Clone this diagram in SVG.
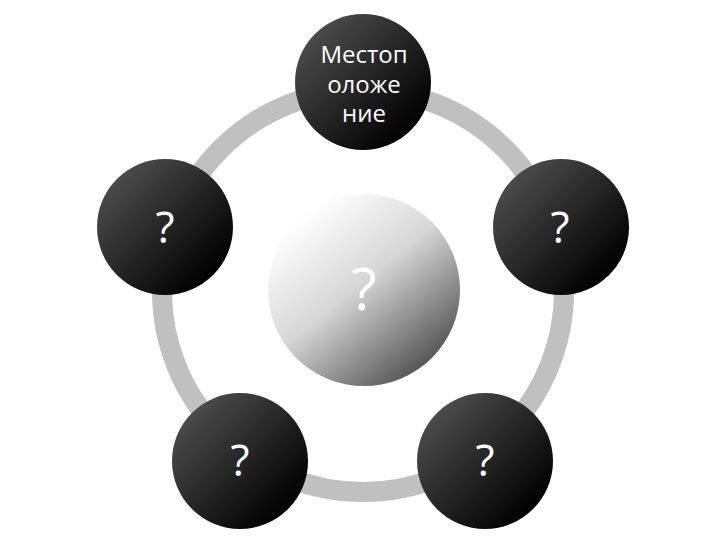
<svg xmlns="http://www.w3.org/2000/svg" width="720" height="540" viewBox="0 0 720 540">
<defs>
<linearGradient id="dark" x1="0.15" y1="0.15" x2="0.85" y2="0.85">
<stop offset="0" stop-color="#4a4a4a"/>
<stop offset="1" stop-color="#000000"/>
</linearGradient>
<linearGradient id="light" x1="0.2" y1="0.1" x2="0.85" y2="0.9">
<stop offset="0" stop-color="#ffffff"/>
<stop offset="0.45" stop-color="#d6d6d6"/>
<stop offset="1" stop-color="#505050"/>
</linearGradient>
<style>
.node{fill:url(#dark);}
.t{font-family:"Open Sans","DejaVu Sans",sans-serif;fill:#ffffff;text-anchor:middle;}
.lbl{font-size:24px;}
.q{font-size:44px;}
.qc{font-size:58px;}
</style>
</defs>
<rect width="720" height="540" fill="#ffffff"/>
<g id="connectors">
<circle cx="363" cy="291" r="201" fill="none" stroke="#c0c0c0" stroke-width="20"/>
</g>
<g id="center">
<circle cx="364" cy="290" r="96" fill="url(#light)"/>
<text class="t qc" x="364" y="310">?</text>
</g>
<g id="top">
<circle class="node" cx="363" cy="82" r="68"/>
<text class="t lbl" x="364" y="63">Местоп</text>
<text class="t lbl" x="364" y="93">оложе</text>
<text class="t lbl" x="364" y="122">ние</text>
</g>
<g id="left">
<circle class="node" cx="165" cy="227" r="68"/>
<text class="t q" x="165" y="243">?</text>
</g>
<g id="right">
<circle class="node" cx="561" cy="227" r="68"/>
<text class="t q" x="560" y="243">?</text>
</g>
<g id="bottom-left">
<circle class="node" cx="240" cy="461" r="68"/>
<text class="t q" x="240" y="476">?</text>
</g>
<g id="bottom-right">
<circle class="node" cx="485" cy="461" r="68"/>
<text class="t q" x="485" y="476">?</text>
</g>
</svg>
